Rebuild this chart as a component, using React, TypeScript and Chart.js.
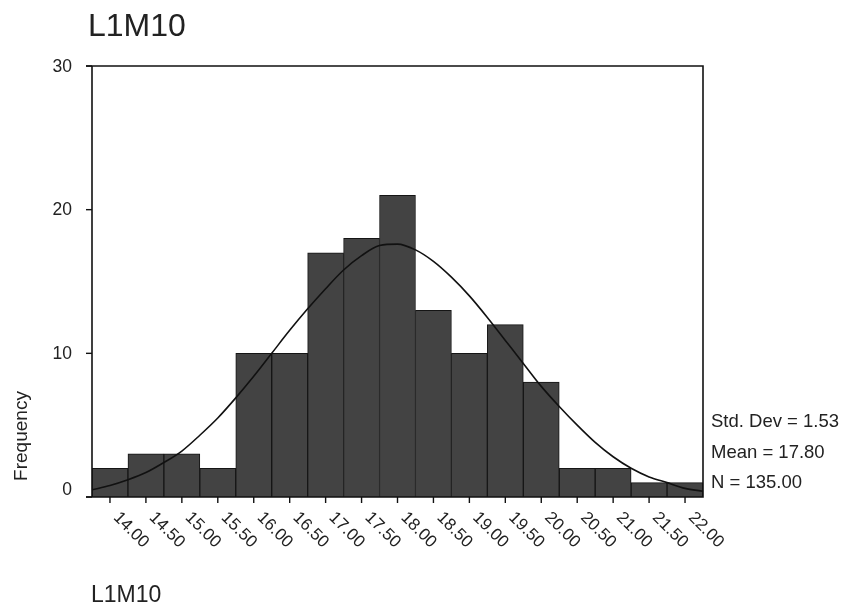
import React, { useEffect, useRef } from "react";
import { Chart, registerables } from "chart.js";

Chart.register(...registerables);

const binCenters = [14.0, 14.5, 15.0, 15.5, 16.0, 16.5, 17.0, 17.5, 18.0, 18.5, 19.0, 19.5, 20.0, 20.5, 21.0, 21.5, 22.0];
const frequencies = [2, 3, 3, 2, 10, 10, 17, 18, 21, 13, 10, 12, 8, 2, 2, 1, 1];
const tickLabels = ["14.00", "14.50", "15.00", "15.50", "16.00", "16.50", "17.00", "17.50", "18.00", "18.50", "19.00", "19.50", "20.00", "20.50", "21.00", "21.50", "22.00"];
const curveX = [13.75, 14.0, 14.25, 14.5, 14.75, 15.0, 15.25, 15.5, 15.75, 16.0, 16.25, 16.5, 16.75, 17.0, 17.25, 17.5, 17.75, 18.0, 18.25, 18.5, 18.75, 19.0, 19.25, 19.5, 19.75, 20.0, 20.25, 20.5, 20.75, 21.0, 21.25, 21.5, 21.75, 22.0, 22.25];
const curveY = [0.5, 0.8, 1.2, 1.7, 2.4, 3.2, 4.3, 5.5, 6.9, 8.4, 10.0, 11.6, 13.1, 14.5, 15.8, 16.8, 17.5, 17.6, 17.2, 16.4, 15.3, 14.0, 12.5, 10.9, 9.3, 7.7, 6.3, 5.0, 3.8, 2.8, 2.0, 1.4, 1.0, 0.6, 0.4];
const yTicks = [0, 10, 20, 30];
const titleText = "L1M10";
const xTitleText = "L1M10";
const yTitleText = "Frequency";
const statsLines = ["Std. Dev = 1.53", "Mean = 17.80", "N = 135.00"];

const FONT = "'Liberation Sans', Arial, Helvetica, sans-serif";

const decorPlugin = {
  id: "decor",
  afterDraw(chart: any) {
    const ctx = chart.ctx;
    const area = chart.chartArea;
    const xs = chart.scales.x;
    const ys = chart.scales.y;
    ctx.save();
    ctx.strokeStyle = "#111";
    ctx.fillStyle = "#111";
    ctx.lineWidth = 1.6;
    // frame
    ctx.beginPath();
    ctx.moveTo(area.left - 6, area.top);
    ctx.lineTo(area.right, area.top);
    ctx.lineTo(area.right, area.bottom);
    ctx.lineTo(area.left - 6, area.bottom);
    ctx.moveTo(area.left, area.top);
    ctx.lineTo(area.left, area.bottom);
    ctx.stroke();
    // y ticks
    ctx.lineWidth = 1.4;
    ctx.font = `17.5px ${FONT}`;
    ctx.textAlign = "right";
    ctx.textBaseline = "middle";
    ctx.fillStyle = "#222";
    yTicks.forEach((v) => {
      const py = ys.getPixelForValue(v);
      ctx.beginPath();
      ctx.moveTo(area.left - 6, py);
      ctx.lineTo(area.left, py);
      ctx.stroke();
      const ly = Math.min(py, area.bottom - 8);
      ctx.fillText(String(v), area.left - 20, ly + 1);
    });
    // x ticks and labels
    ctx.font = `17px ${FONT}`;
    binCenters.forEach((v, i) => {
      const px = xs.getPixelForValue(v);
      ctx.beginPath();
      ctx.moveTo(px, area.bottom);
      ctx.lineTo(px, area.bottom + 6);
      ctx.stroke();
      ctx.save();
      ctx.translate(px + 6, area.bottom + 18);
      ctx.rotate(Math.PI / 4);
      ctx.textAlign = "left";
      ctx.textBaseline = "middle";
      ctx.fillText(tickLabels[i], 0, 0);
      ctx.restore();
    });
    // titles
    ctx.textAlign = "left";
    ctx.textBaseline = "alphabetic";
    ctx.font = `32px ${FONT}`;
    ctx.fillText(titleText, area.left - 4, 36);
    ctx.font = `23px ${FONT}`;
    ctx.fillText(xTitleText, area.left - 1, 602);
    ctx.save();
    ctx.translate(27, 436);
    ctx.rotate(-Math.PI / 2);
    ctx.textAlign = "center";
    ctx.font = `19px ${FONT}`;
    ctx.fillText(yTitleText, 0, 0);
    ctx.restore();
    // stats
    ctx.font = `18.5px ${FONT}`;
    statsLines.forEach((s, i) => {
      ctx.fillText(s, area.right + 8, 427 + i * 30.5);
    });
    ctx.restore();
  },
};

export default function App() {
  const ref = useRef<HTMLCanvasElement>(null);
  useEffect(() => {
    document.body.style.margin = "0";
    const canvas = ref.current;
    if (!canvas) return;
    const chart = new Chart(canvas, {
      type: "bar",
      data: {
        datasets: [
          {
            type: "line",
            data: curveX.map((x, i) => ({ x, y: curveY[i] })),
            borderColor: "#111",
            borderWidth: 1.6,
            pointRadius: 0,
            cubicInterpolationMode: "monotone",
            fill: false,
            order: 0,
          } as any,
          {
            type: "bar",
            data: binCenters.map((x, i) => ({ x, y: frequencies[i] })),
            backgroundColor: "#434343",
            borderColor: "#151515",
            borderWidth: 1,
            barPercentage: 1,
            categoryPercentage: 1,
            order: 1,
          } as any,
        ],
      },
      options: {
        animation: false,
        responsive: false,
        maintainAspectRatio: false,
        layout: { padding: { left: 92, right: 142, top: 66, bottom: 112 } },
        plugins: { legend: { display: false }, tooltip: { enabled: false }, title: { display: false } },
        scales: {
          x: { type: "linear", min: 13.75, max: 22.25, offset: false, display: false },
          y: { type: "linear", min: 0, max: 30, display: false },
        },
      },
      plugins: [decorPlugin],
    });
    return () => chart.destroy();
  }, []);
  return (
    <div style={{ width: 845, height: 609, background: "#fff" }}>
      <canvas ref={ref} width={845} height={609} style={{ display: "block" }} />
    </div>
  );
}
